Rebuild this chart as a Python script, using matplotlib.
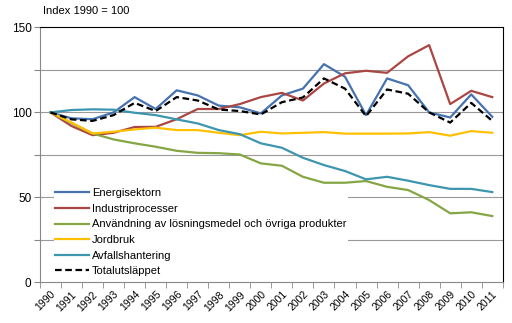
import numpy as np
import matplotlib.pyplot as plt

plt.rcParams['font.family'] = ['Liberation Sans', 'DejaVu Sans']

years = [str(y) for y in range(1990, 2012)]

energi = [100, 96.5, 96, 100, 109, 102, 113, 110, 104, 103, 99.4, 110, 114,
          128.4, 121, 98.4, 120, 116, 100, 97, 110.6, 97.4]
industri = [100, 92, 86.6, 88, 91.4, 91.5, 96, 102, 102, 104.9, 109, 111.5, 107,
            117, 123, 124.5, 123.3, 133, 139.6, 104.9, 112.7, 109]
losning = [100, 93.7, 87.6, 84.1, 81.8, 79.8, 77.4, 76.2, 76, 75.2, 70, 68.6, 62.1,
           58.6, 58.6, 59.6, 56.2, 54.3, 48.4, 40.6, 41.2, 39]
jordbruk = [100, 94, 87.6, 88.6, 90, 91, 89.6, 89.6, 88, 86.6, 88.6, 87.6, 88,
            88.4, 87.5, 87.5, 87.5, 87.6, 88.4, 86.3, 89, 88]
avfall = [100, 101.4, 101.8, 101.6, 99.8, 98.4, 95.9, 93.5, 89.6, 87.2, 81.8, 79.2,
          73.3, 69, 65.5, 60.6, 62.1, 59.8, 57.2, 55, 55, 53.1]
total = [100, 95.9, 95, 98.4, 105.6, 100.8, 109, 107, 101.7, 100.8, 98.8, 106,
         108.8, 120, 114, 97.8, 113.5, 111, 100, 94, 105.6, 95]

labels = ['Energisektorn', 'Industriprocesser',
          'Användning av lösningsmedel och övriga produkter',
          'Jordbruk', 'Avfallshantering', 'Totalutsläppet']
series = [energi, industri, losning, jordbruk, avfall, total]
colors = ['#4673AE', '#AA4643', '#86A545', '#FFC000', '#3D96AE', 'black']

fig = plt.figure(figsize=(5.12, 3.23), dpi=100)
ax = fig.add_axes([0.078, 0.126, 0.904, 0.789])

x = np.arange(len(years))
for vals, lab, c in zip(series, labels, colors):
    if c == 'black':
        ax.plot(x, vals, color=c, lw=1.6, ls=(0, (3, 1.6)), label=lab, zorder=4)
    else:
        ax.plot(x, vals, color=c, lw=1.6, label=lab, zorder=3)

ax.set_xlim(-0.5, len(years) - 0.5)
ax.set_ylim(0, 150)
ax.set_yticks(np.arange(0, 151, 25))
ax.set_yticklabels(['0', '', '50', '', '100', '', '150'], fontsize=8.5)
for yv in [25, 50, 75, 100, 125]:
    ax.axhline(yv, color='#999999', lw=0.8, zorder=1)

ax.set_xticks(x)
ax.set_xticklabels(years, rotation=45, ha='right', rotation_mode='anchor', fontsize=7.5)
ax.set_xticks(np.arange(-0.5, len(years), 1), minor=True)
ax.tick_params(axis='x', which='major', length=0, pad=5)
ax.tick_params(axis='x', which='minor', length=4, color='#888888')
ax.tick_params(axis='y', length=4, color='#888888', pad=2)

ax.spines['left'].set_color('#888888')
ax.spines['bottom'].set_color('#888888')
ax.spines['top'].set_color('black')
ax.spines['right'].set_color('black')

fig.text(0.084, 0.967, 'Index 1990 = 100', fontsize=8, va='center')

leg = ax.legend(loc='lower left', bbox_to_anchor=(0.03, 0.02), fontsize=8,
                frameon=True, handlelength=3.1, handletextpad=0.25,
                labelspacing=0.5, borderaxespad=0, borderpad=0.1,
                fancybox=False)
leg.get_frame().set_edgecolor('none')
leg.get_frame().set_alpha(1)
leg.set_zorder(2)

fig.savefig('out.png', dpi=100)
